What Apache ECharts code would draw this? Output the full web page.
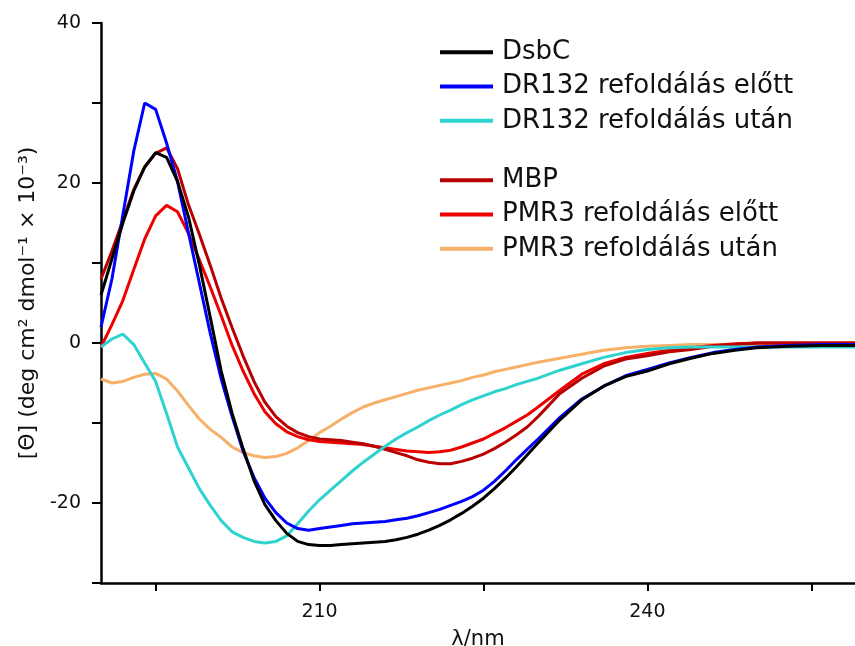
<!DOCTYPE html>
<html>
<head>
<meta charset="utf-8">
<script src="https://cdn.jsdelivr.net/npm/echarts@6/dist/echarts.min.js"></script>
<style>html,body{margin:0;padding:0;background:#fff}#c{width:855px;height:646px}</style>
</head>
<body>
<div id="c"></div>
<script>
// wavelength (nm)
var wavelength = [190,191,192,193,194,195,196,197,198,199,200,201,202,203,204,205,206,207,208,209,210,
  211,212,213,214,215,216,217,218,219,220,221,222,223,224,225,226,227,228,229,230,
  232,234,236,238,240,242,244,246,248,250,253,256,259];

var dsbc = [6.0,10.5,15.0,19.0,22.0,23.8,23.2,20.2,15.8,9.8,3.2,-3.5,-8.8,-13.2,-17.2,-20.2,-22.2,-23.8,-24.8,-25.2,-25.3,
  -25.3,-25.2,-25.1,-25.0,-24.9,-24.8,-24.6,-24.3,-23.9,-23.4,-22.8,-22.1,-21.3,-20.4,-19.4,-18.2,-16.9,-15.5,-14.0,-12.5,
  -9.6,-7.1,-5.4,-4.2,-3.5,-2.6,-1.9,-1.3,-0.9,-0.6,-0.4,-0.3,-0.3];

var dr132Before = [2.0,8.0,16.0,24.0,30.0,29.2,25.0,20.2,13.8,7.5,1.2,-4.5,-9.2,-13.5,-16.8,-19.4,-21.2,-22.5,-23.2,-23.4,-23.2,
  -23.0,-22.8,-22.6,-22.5,-22.4,-22.3,-22.1,-21.9,-21.6,-21.2,-20.8,-20.3,-19.8,-19.2,-18.4,-17.3,-16.0,-14.6,-13.3,-12.0,
  -9.3,-7.0,-5.4,-4.1,-3.3,-2.5,-1.8,-1.2,-0.8,-0.5,-0.3,-0.2,-0.2];

var dr132After = [-0.5,0.5,1.1,-0.2,-2.5,-4.8,-8.8,-13.0,-15.6,-18.2,-20.3,-22.2,-23.6,-24.3,-24.8,-25.0,-24.8,-24.1,-22.6,-21.0,-19.6,
  -18.4,-17.2,-16.0,-14.9,-13.9,-12.9,-12.0,-11.2,-10.5,-9.7,-9.0,-8.4,-7.7,-7.1,-6.6,-6.1,-5.7,-5.2,-4.8,-4.4,
  -3.4,-2.6,-1.8,-1.2,-0.8,-0.6,-0.5,-0.5,-0.5,-0.5,-0.5,-0.5,-0.5];

var mbp = [8.0,11.5,15.3,19.2,22.0,23.7,24.4,21.8,17.3,13.6,9.7,5.6,1.9,-1.6,-4.8,-7.4,-9.2,-10.4,-11.2,-11.7,-12.0,
  -12.1,-12.2,-12.4,-12.6,-12.9,-13.3,-13.7,-14.1,-14.6,-14.9,-15.1,-15.1,-14.8,-14.4,-13.9,-13.2,-12.4,-11.5,-10.5,-9.2,
  -6.3,-4.4,-2.9,-2.0,-1.6,-1.1,-0.8,-0.4,-0.2,0.0,0.0,0.0,0.0];

var pmr3Before = [-0.5,2.3,5.3,9.2,13.0,15.9,17.2,16.4,13.7,10.4,7.0,3.4,-0.3,-3.5,-6.3,-8.6,-10.1,-11.1,-11.7,-12.1,-12.3,
  -12.4,-12.5,-12.6,-12.7,-12.9,-13.1,-13.3,-13.5,-13.6,-13.7,-13.6,-13.4,-13.0,-12.5,-12.0,-11.3,-10.6,-9.8,-9.0,-8.0,
  -5.9,-3.9,-2.6,-1.8,-1.3,-0.9,-0.6,-0.3,-0.1,0.0,0.0,0.0,0.0];

var pmr3After = [-4.5,-5.0,-4.8,-4.3,-3.9,-3.8,-4.5,-6.0,-7.8,-9.5,-10.8,-11.8,-13.0,-13.7,-14.1,-14.3,-14.2,-13.8,-13.1,-12.2,-11.2,
  -10.4,-9.5,-8.7,-8.0,-7.5,-7.1,-6.7,-6.3,-5.9,-5.6,-5.3,-5.0,-4.7,-4.3,-4.0,-3.6,-3.3,-3.0,-2.7,-2.4,
  -1.9,-1.4,-0.9,-0.6,-0.4,-0.3,-0.2,-0.2,-0.2,-0.2,-0.2,-0.2,-0.2];

var seriesNames = ['DsbC','DR132 refoldálás előtt','DR132 refoldálás után','MBP','PMR3 refoldálás előtt','PMR3 refoldálás után'];
var seriesValues = [dsbc, dr132Before, dr132After, mbp, pmr3Before, pmr3After];
var seriesColors = ['#000000','#0000ff','#2ed3d0','#b80000','#ee0000','#f6b068'];

var xTicks = [195,210,225,240,255];
var xLabels = [210,240];

function pairs(vals){ return wavelength.map(function(x,i){ return [x, vals[i]]; }); }

var series = seriesValues.map(function(v,i){
  return {
    name: seriesNames[i], type:'line', data: pairs(v), showSymbol:false, smooth:false,
    lineStyle:{color:seriesColors[i], width:3}, itemStyle:{color:seriesColors[i]}, z: 10 - i
  };
});

var legendCommon = {
  orient:'vertical', left:440, itemWidth:53, itemHeight:4, itemGap:0, icon:'rect', padding:0,
  textStyle:{fontFamily:'DejaVu Sans', fontSize:26, color:'#111', lineHeight:34.3, padding:[0,0,0,4]},
  selectedMode:false
};

var option = {
  animation:false,
  backgroundColor:'#ffffff',
  grid:{left:101, top:23, right:0, bottom:63, containLabel:false, outerBoundsMode:'none'},
  legend:[
    Object.assign({}, legendCommon, {top:35, data:seriesNames.slice(0,3)}),
    Object.assign({}, legendCommon, {top:163, data:seriesNames.slice(3,6)})
  ],
  xAxis:{
    type:'value', min:190, max:259,
    name:'λ/nm', nameLocation:'middle', nameGap:46,
    nameTextStyle:{fontFamily:'DejaVu Sans', fontSize:21, color:'#111'},
    axisLine:{onZero:false, lineStyle:{color:'#000', width:2.5}},
    axisTick:{show:true, inside:false, length:8, lineStyle:{color:'#000', width:2}, customValues:xTicks},
    axisLabel:{fontFamily:'DejaVu Sans', fontSize:19, color:'#111', margin:20, customValues:xLabels},
    splitLine:{show:false}
  },
  yAxis:{
    type:'value', min:-30, max:40, interval:10,
    name:'[Θ] (deg cm² dmol⁻¹ × 10⁻³)', nameLocation:'middle', nameGap:56,
    nameTextStyle:{fontFamily:'DejaVu Sans', fontSize:22, color:'#111'},
    axisLine:{show:true, onZero:false, lineStyle:{color:'#000', width:2.5}},
    axisTick:{show:true, inside:false, length:9, lineStyle:{color:'#000', width:2}},
    axisLabel:{fontFamily:'DejaVu Sans', fontSize:19, color:'#111', margin:20,
      formatter:function(v){ return (v % 20 === 0) ? String(v) : ''; }},
    splitLine:{show:false}
  },
  series: series
};

var chart = echarts.init(document.getElementById('c'), null, {renderer:'canvas'});
chart.setOption(option);
</script>
</body>
</html>
